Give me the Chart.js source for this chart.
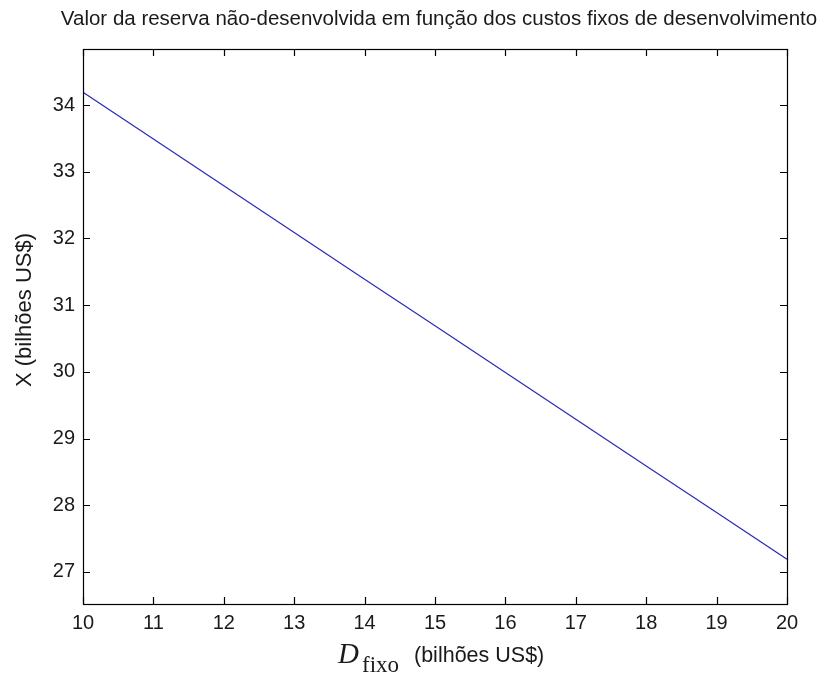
<!DOCTYPE html>
<html>
<head>
<meta charset="utf-8">
<script src="https://cdn.jsdelivr.net/npm/chart.js@4/dist/chart.umd.min.js"></script>
<style>
html,body{margin:0;padding:0;background:#fff;}
#wrap{width:827px;height:678px;position:relative;}
</style>
</head>
<body>
<div id="wrap"><canvas id="c" width="827" height="678"></canvas></div>
<script>
// Data
const dFixo = [10, 11, 12, 13, 14, 15, 16, 17, 18, 19, 20];
const valorX = [34.19, 33.49, 32.79, 32.09, 31.39, 30.69, 29.99, 29.29, 28.59, 27.89, 27.19];
const xTicks = [10, 11, 12, 13, 14, 15, 16, 17, 18, 19, 20];
const yTicks = [27, 28, 29, 30, 31, 32, 33, 34];
const titleText = 'Valor da reserva não-desenvolvida em função dos custos fixos de desenvolvimento';
const yLabel = 'X (bilhões US$)';
const xLabelVar = 'D';
const xLabelSub = 'fixo';
const xLabelUnit = '(bilhões US$)';

const textColor = '#1a1a1a';
const sans = "'Liberation Sans', Arial, sans-serif";
const serif = "'Liberation Serif', 'Times New Roman', serif";

const framePlugin = {
  id: 'frame',
  afterDraw(chart) {
    const ctx = chart.ctx;
    const a = chart.chartArea;
    const xs = chart.scales.x, ys = chart.scales.y;
    ctx.save();
    ctx.strokeStyle = '#000';
    ctx.lineWidth = 1.2;
    ctx.strokeRect(Math.round(a.left) + 0.5, Math.round(a.top) + 0.5,
                   Math.round(a.right - a.left), Math.round(a.bottom - a.top));
    const tl = 7;
    ctx.beginPath();
    xTicks.forEach(v => {
      const px = Math.round(xs.getPixelForValue(v)) + 0.5;
      ctx.moveTo(px, a.bottom); ctx.lineTo(px, a.bottom - tl);
      ctx.moveTo(px, a.top); ctx.lineTo(px, a.top + tl);
    });
    yTicks.forEach(v => {
      const py = Math.round(ys.getPixelForValue(v)) + 0.5;
      ctx.moveTo(a.left, py); ctx.lineTo(a.left + tl, py);
      ctx.moveTo(a.right, py); ctx.lineTo(a.right - tl, py);
    });
    ctx.stroke();

    // Title
    ctx.fillStyle = textColor;
    ctx.font = '20.5px ' + sans;
    ctx.textAlign = 'center';
    ctx.textBaseline = 'alphabetic';
    ctx.fillText(titleText, 439, 25);

    // Y label
    ctx.save();
    ctx.translate(25, 310);
    ctx.rotate(-Math.PI / 2);
    ctx.font = '22px ' + sans;
    ctx.textAlign = 'center';
    ctx.textBaseline = 'middle';
    ctx.fillText(yLabel, 0, 0);
    ctx.restore();

    // X label (D_fixo (bilhões US$))
    ctx.textAlign = 'left';
    ctx.font = 'italic 29px ' + serif;
    ctx.fillText(xLabelVar, 338, 663);
    ctx.font = '23px ' + serif;
    ctx.fillText(xLabelSub, 362, 672);
    ctx.font = '21.5px ' + sans;
    ctx.fillText(xLabelUnit, 414, 662);
    ctx.restore();
  }
};

new Chart(document.getElementById('c'), {
  type: 'line',
  data: {
    labels: dFixo,
    datasets: [{
      data: dFixo.map((x, i) => ({ x: x, y: valorX[i] })),
      borderColor: '#2a2ab8',
      borderWidth: 1.2,
      pointRadius: 0,
      tension: 0,
      fill: false
    }]
  },
  options: {
    responsive: false,
    animation: false,
    devicePixelRatio: 1,
    layout: { padding: { top: 49, right: 40, left: 0, bottom: 0 } },
    plugins: { legend: { display: false }, title: { display: false }, tooltip: { enabled: false } },
    scales: {
      x: {
        type: 'linear',
        min: 10, max: 20,
        afterBuildTicks: s => { s.ticks = xTicks.map(v => ({ value: v })); },
        afterFit: s => { s.height = 74; },
        grid: { display: false, drawTicks: false },
        border: { display: false },
        ticks: { color: textColor, font: { family: sans, size: 20 }, padding: 7, maxRotation: 0, autoSkip: false }
      },
      y: {
        type: 'linear',
        min: 26.52, max: 34.84,
        afterBuildTicks: s => { s.ticks = yTicks.map(v => ({ value: v })); },
        afterFit: s => { s.width = 83; },
        grid: { display: false, drawTicks: false },
        border: { display: false },
        ticks: { color: textColor, font: { family: sans, size: 20 }, padding: 8, autoSkip: false }
      }
    }
  },
  plugins: [framePlugin]
});
</script>
</body>
</html>
